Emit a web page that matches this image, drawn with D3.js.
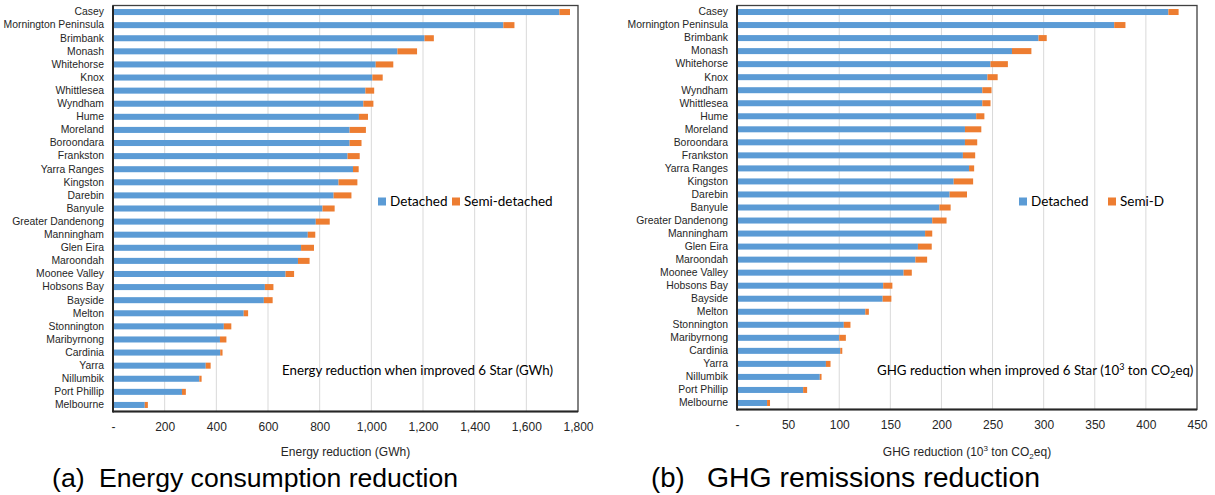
<!DOCTYPE html>
<html>
<head>
<meta charset="utf-8">
<script src="https://cdn.jsdelivr.net/npm/d3@7"></script>
<style>
  html, body { margin: 0; padding: 0; background: #fff; }
  svg { display: block; }
</style>
</head>
<body>
<svg id="chart" width="1215" height="495"></svg>
<script>
// ---------- DATA ----------
const energyCategories = ["Casey","Mornington Peninsula","Brimbank","Monash","Whitehorse","Knox","Whittlesea","Wyndham","Hume","Moreland","Boroondara","Frankston","Yarra Ranges","Kingston","Darebin","Banyule","Greater Dandenong","Manningham","Glen Eira","Maroondah","Moonee Valley","Hobsons Bay","Bayside","Melton","Stonnington","Maribyrnong","Cardinia","Yarra","Nillumbik","Port Phillip","Melbourne"];
const energyDetached = [1728,1511,1206,1101,1017,1004,977,969,952,916,916,908,929,873,854,811,785,754,728,716,668,588,584,506,429,414,415,359,334,267,123];
const energySemi = [41,43,36,76,68,40,34,39,35,63,46,47,22,73,69,47,54,29,50,45,33,33,34,17,29,25,9,19,9,15,12];
const energyTicks = [0,200,400,600,800,1000,1200,1400,1600,1800];

const ghgCategories = ["Casey","Mornington Peninsula","Brimbank","Monash","Whitehorse","Knox","Wyndham","Whittlesea","Hume","Moreland","Boroondara","Frankston","Yarra Ranges","Kingston","Darebin","Banyule","Greater Dandenong","Manningham","Glen Eira","Maroondah","Moonee Valley","Hobsons Bay","Bayside","Melton","Stonnington","Maribyrnong","Cardinia","Yarra","Nillumbik","Port Phillip","Melbourne"];
const ghgDetached = [422,369,295,269,248,245,240,240,234,223,223,221,227,212,208,198,191,184,177,174.5,163,143,142.5,125.5,104.5,100,101,87,81,64.7,29.4];
const ghgSemi = [10,11,8,19,17,10,9,8,8,16,12,12,5,19,17,11,14,7,13.5,11.5,8,9,8.5,3.5,6.5,6.5,2,4.5,1.7,3.9,2.9];
const ghgTicks = [0,50,100,150,200,250,300,350,400,450];

const seriesColors = ["#5B9BD5", "#ED7D31"];

// ---------- DRAW ----------
const svg = d3.select("#chart");
svg.append("rect").attr("width",1215).attr("height",495).attr("fill","#fff");

const LABEL_FONT = "'Liberation Sans', Arial, sans-serif";
const NOTE_FONT = "Lato, 'Open Sans', sans-serif";

function drawPanel(opt) {
  const g = svg.append("g");
  const x = d3.scaleLinear().domain([0, opt.max]).range([opt.left, opt.right]);
  const y = d3.scaleBand().domain(opt.categories).range([opt.top, opt.bottom]).paddingInner(0.54).paddingOuter(0.27);

  // grid
  g.append("g").selectAll("line").data(opt.ticks.slice(1, -1)).join("line")
    .attr("x1", d => x(d)).attr("x2", d => x(d))
    .attr("y1", opt.top).attr("y2", opt.bottom)
    .attr("stroke", "#d9d9d9").attr("stroke-width", 1);

  // stacked bars
  const rows = opt.categories.map((c, i) => ({ c, a: opt.detached[i], b: opt.semi[i] }));
  const stack = d3.stack().keys(["a", "b"])(rows);
  g.append("g").selectAll("g").data(stack).join("g")
    .attr("fill", (d, i) => seriesColors[i])
    .selectAll("rect").data(d => d).join("rect")
    .attr("x", d => x(d[0]))
    .attr("width", d => Math.max(0, x(d[1]) - x(d[0])))
    .attr("y", d => y(d.data.c))
    .attr("height", y.bandwidth());

  // frame
  g.append("rect").attr("x", opt.left).attr("y", opt.top)
    .attr("width", opt.right - opt.left).attr("height", opt.bottom - opt.top)
    .attr("fill", "none").attr("stroke", "#404040").attr("stroke-width", 1.3);
  g.append("line").attr("x1", opt.left).attr("x2", opt.left)
    .attr("y1", opt.top).attr("y2", opt.bottom + 1)
    .attr("stroke", "#262626").attr("stroke-width", 2);
  g.append("line").attr("x1", opt.left).attr("x2", opt.right)
    .attr("y1", opt.bottom).attr("y2", opt.bottom)
    .attr("stroke", "#262626").attr("stroke-width", 2);

  // y axis labels
  const yAxis = d3.axisLeft(y).tickSize(0).tickPadding(opt.left - opt.labelRight);
  const ya = g.append("g").attr("transform", `translate(${opt.left},0)`).call(yAxis);
  ya.select(".domain").remove();
  ya.selectAll("text").attr("font-family", LABEL_FONT).attr("font-size", 10.4).attr("fill", "#262626");

  // x axis labels
  const xAxis = d3.axisBottom(x).tickValues(opt.ticks).tickSize(0).tickPadding(11)
    .tickFormat(d => d === 0 ? "-" : d3.format(",")(d));
  const xa = g.append("g").attr("transform", `translate(0,${opt.bottom})`).call(xAxis);
  xa.select(".domain").remove();
  xa.selectAll("text").attr("font-family", LABEL_FONT).attr("font-size", 12).attr("fill", "#262626");

  // axis title
  const t = g.append("text").attr("x", (opt.left + opt.right) / 2).attr("y", 456)
    .attr("text-anchor", "middle").attr("font-family", LABEL_FONT).attr("font-size", 12).attr("fill", "#262626");
  opt.axisTitle.forEach(p => {
    const s = t.append("tspan").text(p.t);
    if (p.sup) s.attr("font-size", 8).attr("dy", -5);
    if (p.sub) s.attr("font-size", 8).attr("dy", 3);
    if (p.after) s.attr("dy", p.after);
  });

  // note inside plot
  const n = g.append("text").attr("x", opt.noteX).attr("y", 374.5)
    .attr("font-family", NOTE_FONT).attr("font-size", 13.3).attr("fill", "#000");
  opt.note.forEach(p => {
    const s = n.append("tspan").text(p.t);
    if (p.sup) s.attr("font-size", 9).attr("dy", -5);
    if (p.sub) s.attr("font-size", 9).attr("dy", 3);
    if (p.after) s.attr("dy", p.after);
  });

  // legend
  const lg = g.append("g");
  opt.legend.forEach((l, i) => {
    lg.append("rect").attr("x", l.x).attr("y", 197.5).attr("width", 8).attr("height", 8).attr("fill", seriesColors[i]);
    lg.append("text").attr("x", l.x + 12).attr("y", 206).text(l.t)
      .attr("font-family", NOTE_FONT).attr("font-size", 13.5).attr("fill", "#000");
  });

  // caption: label + main text
  g.append("text").attr("x", opt.captionX).attr("y", 487).text(opt.captionLabel)
    .attr("font-family", LABEL_FONT).attr("font-size", opt.captionSize).attr("fill", "#000");
  g.append("text").attr("x", opt.captionTextX).attr("y", 487).text(opt.caption)
    .attr("font-family", LABEL_FONT).attr("font-size", opt.captionSize).attr("fill", "#000")
    .attr("textLength", opt.captionWidth).attr("lengthAdjust", "spacingAndGlyphs");
}

drawPanel({
  left: 113, right: 578, top: 5.5, bottom: 411.5, labelRight: 104,
  max: 1800, ticks: energyTicks,
  categories: energyCategories, detached: energyDetached, semi: energySemi,
  axisTitle: [{ t: "Energy reduction (GWh)" }],
  noteX: 282,
  note: [{ t: "Energy reduction when improved 6 Star (GWh)" }],
  legend: [{ x: 378, t: "Detached" }, { x: 452, t: "Semi-detached" }],
  captionLabel: "(a)", caption: "Energy consumption reduction", captionX: 52, captionTextX: 99,
  captionSize: 26.7, captionWidth: 359
});

drawPanel({
  left: 737, right: 1197, top: 5.5, bottom: 409.5, labelRight: 728,
  max: 450, ticks: ghgTicks,
  categories: ghgCategories, detached: ghgDetached, semi: ghgSemi,
  axisTitle: [{ t: "GHG reduction (10" }, { t: "3", sup: true }, { t: " ton CO", after: 5 }, { t: "2", sub: true }, { t: "eq)", after: -3 }],
  noteX: 877,
  note: [{ t: "GHG reduction when improved 6 Star (10" }, { t: "3", sup: true }, { t: " ton CO", after: 5 }, { t: "2", sub: true }, { t: "eq)", after: -3 }],
  legend: [{ x: 1019, t: "Detached" }, { x: 1108, t: "Semi-D" }],
  captionLabel: "(b)", caption: "GHG remissions reduction", captionX: 651, captionTextX: 707,
  captionSize: 27.5, captionWidth: 333
});
</script>
</body>
</html>
